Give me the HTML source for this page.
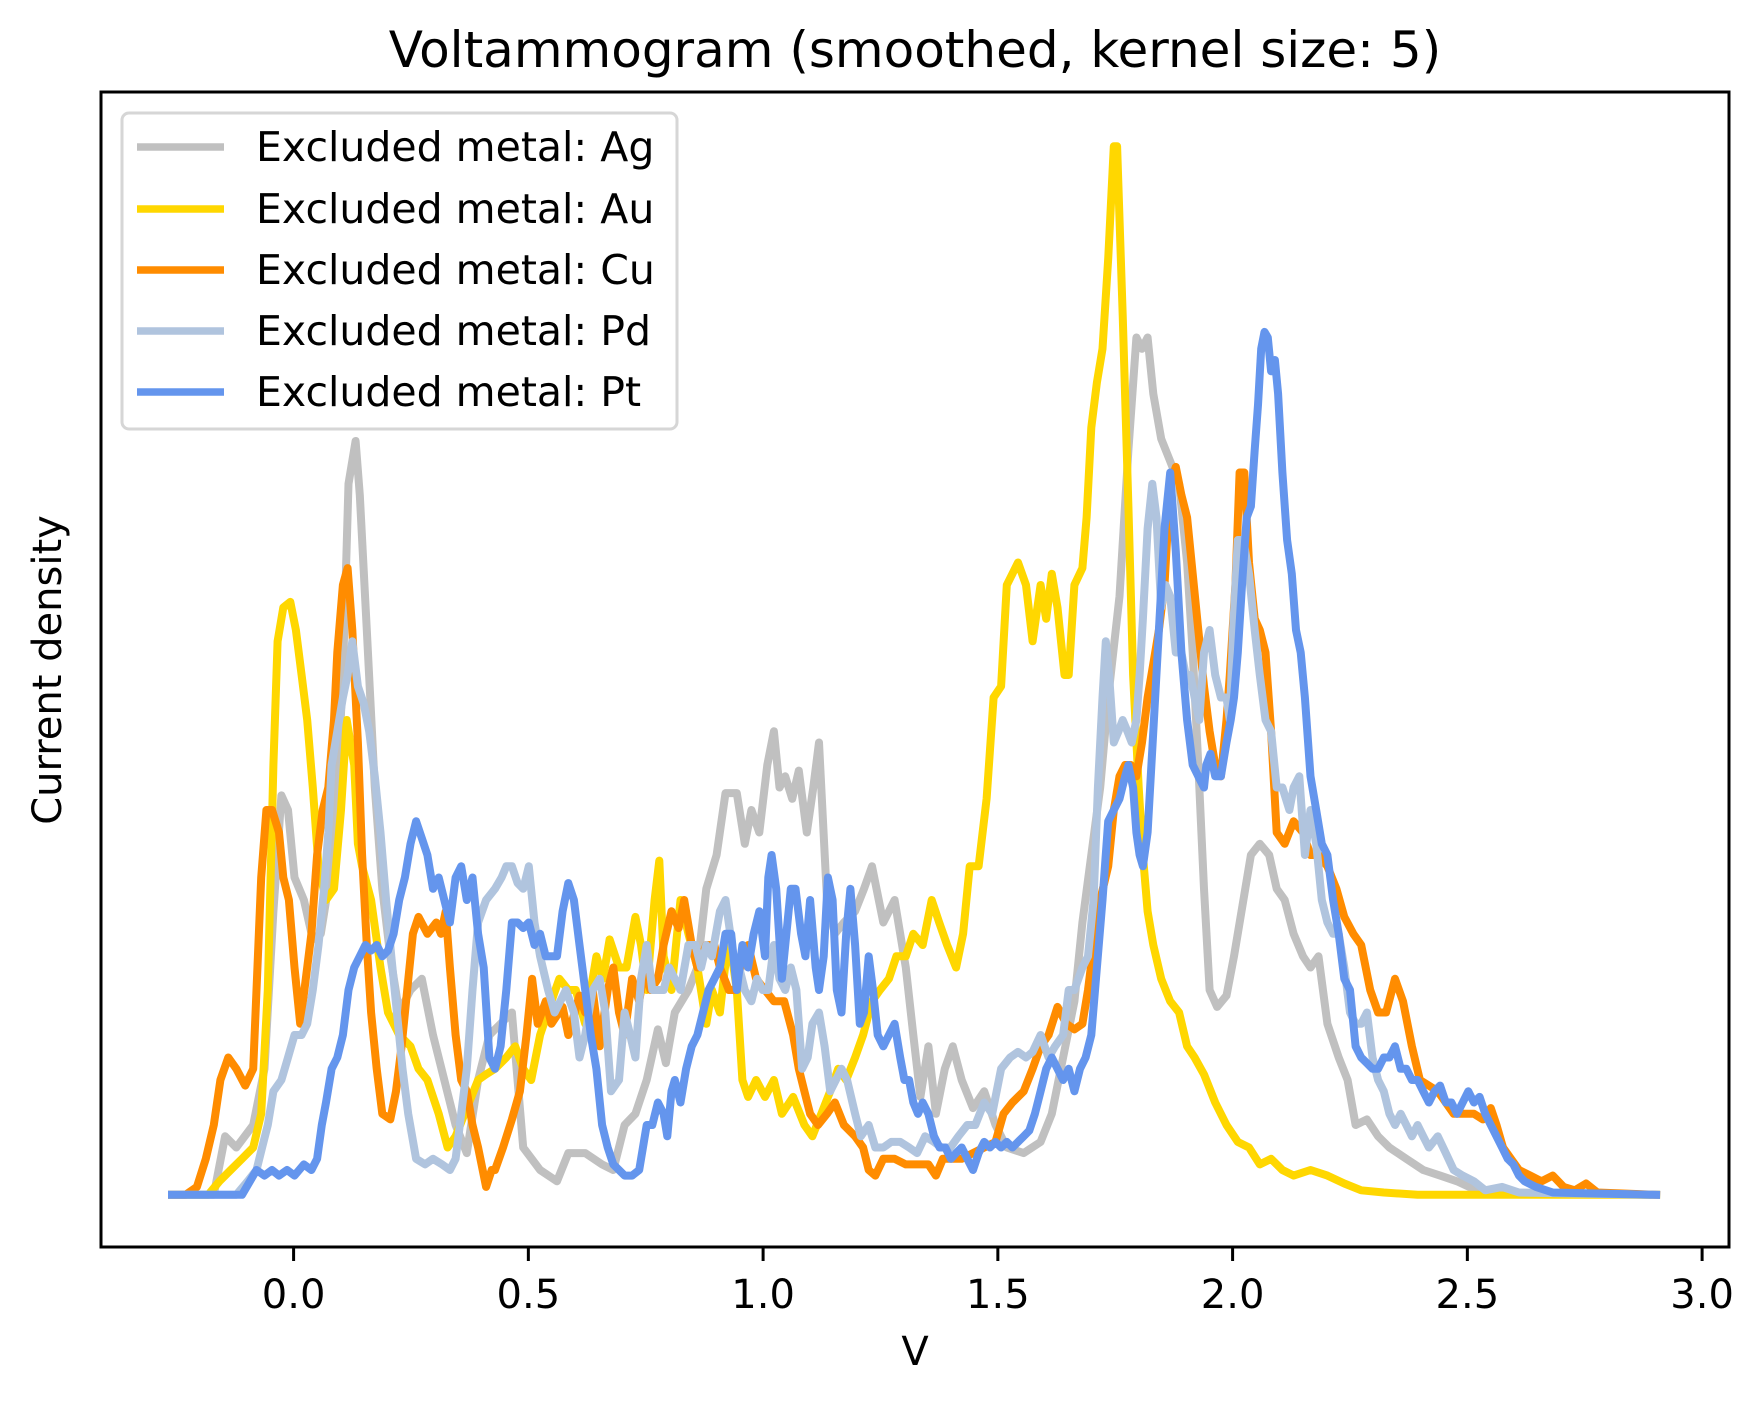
<!DOCTYPE html>
<html><head><meta charset="utf-8"><style>
html,body{margin:0;padding:0;background:#fff;}
svg{display:block;}
text{font-family:"DejaVu Sans","Liberation Sans",sans-serif;fill:#000;}
</style></head><body>
<svg id="chart" width="1764" height="1403" viewBox="0 0 1764 1403" xmlns="http://www.w3.org/2000/svg">
<rect x="0" y="0" width="1764" height="1403" fill="#fff"/>
<text x="915" y="67" font-size="50" text-anchor="middle">Voltammogram (smoothed, kernel size: 5)</text>
<g id="series"></g>
<g id="xaxis"></g>
<rect x="101" y="92" width="1628" height="1155" fill="none" stroke="#000" stroke-width="3"/>
<text x="915" y="1365" font-size="40" text-anchor="middle">V</text>
<text x="0" y="0" font-size="40" text-anchor="middle" transform="translate(61,670) rotate(-90)">Current density</text>
<g id="legend"></g>
</svg>
<script>
const seriesNames = ["Excluded metal: Ag","Excluded metal: Au","Excluded metal: Cu","Excluded metal: Pd","Excluded metal: Pt"];
const seriesColors = ["#c0c0c0","#ffd700","#ff8c00","#b0c4de","#6495ed"];
const xTicks = [0.0,0.5,1.0,1.5,2.0,2.5,3.0];
const xTickLabels = ["0.0","0.5","1.0","1.5","2.0","2.5","3.0"];
const agData = [[-0.259,0],[-0.17,0],[-0.146,52],[-0.122,42],[-0.086,62],[-0.062,112],[-0.043,252],[-0.026,355],[-0.012,342],[0.002,282],[0.022,262],[0.041,227],[0.058,232],[0.077,282],[0.093,362],[0.105,462],[0.117,632],[0.132,670],[0.141,622],[0.156,502],[0.173,362],[0.189,272],[0.206,212],[0.225,162],[0.249,182],[0.273,192],[0.297,142],[0.321,102],[0.345,62],[0.369,37],[0.393,102],[0.417,142],[0.441,152],[0.465,162],[0.489,42],[0.525,22],[0.561,12],[0.585,37],[0.621,37],[0.657,27],[0.681,22],[0.705,62],[0.728,72],[0.752,102],[0.776,147],[0.793,117],[0.812,162],[0.841,182],[0.86,202],[0.879,272],[0.901,302],[0.92,357],[0.944,357],[0.961,312],[0.975,342],[0.992,322],[1.009,382],[1.023,412],[1.035,362],[1.047,372],[1.062,352],[1.076,377],[1.093,322],[1.107,362],[1.119,402],[1.136,262],[1.153,232],[1.172,242],[1.196,252],[1.215,272],[1.232,292],[1.256,242],[1.28,262],[1.304,202],[1.32,142],[1.335,87],[1.352,132],[1.368,72],[1.387,112],[1.404,132],[1.423,102],[1.447,77],[1.471,92],[1.495,62],[1.519,42],[1.555,37],[1.591,47],[1.615,72],[1.639,122],[1.663,172],[1.68,242],[1.699,302],[1.718,362],[1.735,442],[1.759,532],[1.778,662],[1.795,762],[1.807,752],[1.819,762],[1.831,712],[1.848,672],[1.867,652],[1.886,632],[1.903,562],[1.915,482],[1.927,382],[1.939,272],[1.951,182],[1.967,167],[1.987,177],[2.003,212],[2.023,262],[2.039,302],[2.058,312],[2.078,302],[2.094,272],[2.111,262],[2.13,232],[2.15,212],[2.166,202],[2.183,212],[2.202,152],[2.226,122],[2.245,102],[2.262,62],[2.286,67],[2.31,52],[2.334,42],[2.37,32],[2.406,22],[2.442,17],[2.478,12],[2.514,5],[2.562,2],[2.902,0]];
const auData = [[-0.259,0],[-0.182,0],[-0.158,12],[-0.134,22],[-0.110,32],[-0.086,42],[-0.069,72],[-0.055,182],[-0.043,382],[-0.034,492],[-0.022,522],[-0.007,527],[0.005,502],[0.017,462],[0.029,422],[0.041,362],[0.053,292],[0.069,262],[0.086,272],[0.101,342],[0.113,422],[0.129,382],[0.137,312],[0.146,292],[0.165,262],[0.185,202],[0.201,162],[0.225,142],[0.249,132],[0.266,112],[0.285,102],[0.309,72],[0.328,42],[0.345,52],[0.369,77],[0.393,102],[0.41,107],[0.429,112],[0.453,122],[0.472,132],[0.489,112],[0.506,102],[0.525,142],[0.549,172],[0.566,192],[0.585,182],[0.601,182],[0.621,152],[0.645,212],[0.659,192],[0.673,227],[0.693,202],[0.709,202],[0.728,247],[0.74,222],[0.752,182],[0.769,262],[0.779,297],[0.788,212],[0.805,182],[0.824,262],[0.841,232],[0.86,202],[0.879,152],[0.891,182],[0.908,162],[0.927,232],[0.944,182],[0.956,102],[0.968,87],[0.985,102],[1.004,87],[1.023,102],[1.04,72],[1.064,87],[1.088,62],[1.105,52],[1.124,72],[1.143,92],[1.16,112],[1.177,102],[1.196,122],[1.213,142],[1.232,172],[1.249,182],[1.268,192],[1.284,212],[1.304,212],[1.32,232],[1.34,222],[1.359,262],[1.375,242],[1.392,222],[1.411,202],[1.426,232],[1.44,292],[1.459,292],[1.476,352],[1.491,442],[1.507,452],[1.519,542],[1.531,552],[1.543,562],[1.56,542],[1.574,492],[1.591,542],[1.603,512],[1.615,552],[1.627,522],[1.642,462],[1.651,462],[1.663,542],[1.68,557],[1.689,602],[1.699,682],[1.711,722],[1.723,752],[1.735,832],[1.747,932],[1.754,932],[1.766,782],[1.778,612],[1.788,462],[1.8,362],[1.809,302],[1.819,252],[1.831,222],[1.848,192],[1.867,172],[1.886,162],[1.903,132],[1.919,122],[1.939,107],[1.963,82],[1.987,62],[2.011,47],[2.035,42],[2.058,27],[2.082,32],[2.106,22],[2.13,17],[2.166,22],[2.202,17],[2.238,10],[2.274,4],[2.322,2],[2.394,0],[2.902,0]];
const cuData = [[-0.259,0],[-0.230,0],[-0.206,7],[-0.187,32],[-0.17,62],[-0.156,102],[-0.139,122],[-0.122,112],[-0.103,97],[-0.086,112],[-0.069,282],[-0.058,342],[-0.046,342],[-0.031,322],[-0.022,282],[-0.01,262],[0.002,202],[0.014,152],[0.026,192],[0.038,232],[0.05,302],[0.062,342],[0.074,362],[0.086,422],[0.093,482],[0.105,542],[0.115,557],[0.125,502],[0.137,402],[0.146,302],[0.156,222],[0.165,162],[0.177,112],[0.189,72],[0.206,67],[0.218,92],[0.23,132],[0.242,182],[0.254,232],[0.266,247],[0.285,232],[0.304,242],[0.314,232],[0.324,252],[0.333,202],[0.345,142],[0.357,102],[0.369,92],[0.381,62],[0.393,42],[0.41,7],[0.422,22],[0.429,22],[0.446,42],[0.465,67],[0.482,92],[0.496,142],[0.508,192],[0.52,152],[0.537,172],[0.549,152],[0.573,167],[0.585,142],[0.609,177],[0.621,162],[0.637,182],[0.652,132],[0.669,182],[0.681,202],[0.693,162],[0.705,142],[0.721,192],[0.736,172],[0.748,202],[0.76,182],[0.776,192],[0.788,222],[0.805,252],[0.82,237],[0.832,262],[0.848,222],[0.86,202],[0.879,222],[0.896,222],[0.908,202],[0.927,182],[0.944,182],[0.956,212],[0.968,222],[0.985,192],[1.004,182],[1.023,172],[1.045,172],[1.064,142],[1.076,112],[1.088,92],[1.1,72],[1.117,62],[1.136,72],[1.153,82],[1.172,62],[1.196,52],[1.213,42],[1.225,22],[1.239,17],[1.256,32],[1.28,32],[1.304,27],[1.328,27],[1.352,27],[1.368,17],[1.383,32],[1.4,32],[1.423,32],[1.447,37],[1.471,42],[1.495,47],[1.512,72],[1.531,82],[1.555,92],[1.574,112],[1.591,132],[1.608,142],[1.627,167],[1.646,152],[1.663,147],[1.68,152],[1.692,182],[1.704,222],[1.718,262],[1.735,292],[1.747,342],[1.759,372],[1.771,382],[1.783,382],[1.795,372],[1.807,402],[1.819,442],[1.831,472],[1.843,502],[1.855,542],[1.867,632],[1.879,647],[1.891,622],[1.903,602],[1.915,552],[1.927,502],[1.939,452],[1.951,412],[1.963,382],[1.975,372],[1.987,422],[1.994,462],[2.006,542],[2.015,642],[2.025,642],[2.035,562],[2.047,512],[2.058,502],[2.07,482],[2.082,412],[2.094,322],[2.111,312],[2.13,332],[2.15,322],[2.166,302],[2.183,302],[2.202,292],[2.221,272],[2.238,247],[2.257,232],[2.274,222],[2.293,182],[2.31,162],[2.327,162],[2.346,192],[2.363,172],[2.382,132],[2.399,102],[2.418,97],[2.437,92],[2.454,82],[2.471,72],[2.49,72],[2.514,72],[2.533,67],[2.55,77],[2.562,62],[2.576,42],[2.593,32],[2.61,22],[2.634,17],[2.658,12],[2.682,17],[2.705,7],[2.729,4],[2.753,10],[2.777,2],[2.902,0]];
const pdData = [[-0.259,0],[-0.122,0],[-0.098,12],[-0.079,22],[-0.067,42],[-0.055,62],[-0.043,92],[-0.026,102],[-0.012,122],[0.002,142],[0.017,142],[0.029,152],[0.041,182],[0.053,222],[0.065,272],[0.074,322],[0.081,382],[0.093,412],[0.105,442],[0.115,462],[0.125,492],[0.137,452],[0.149,437],[0.161,412],[0.173,372],[0.185,322],[0.197,262],[0.208,212],[0.22,162],[0.232,112],[0.244,72],[0.261,32],[0.28,27],[0.297,32],[0.316,27],[0.333,22],[0.345,32],[0.357,72],[0.369,112],[0.381,182],[0.393,242],[0.41,262],[0.429,272],[0.443,282],[0.453,292],[0.465,292],[0.477,277],[0.489,272],[0.501,292],[0.513,242],[0.525,212],[0.542,182],[0.556,162],[0.568,172],[0.58,182],[0.597,162],[0.609,122],[0.621,142],[0.637,182],[0.652,192],[0.664,162],[0.676,92],[0.693,102],[0.705,162],[0.717,142],[0.728,122],[0.74,192],[0.752,222],[0.764,182],[0.776,182],[0.788,182],[0.8,202],[0.812,192],[0.824,182],[0.841,222],[0.856,222],[0.868,202],[0.879,222],[0.891,212],[0.908,252],[0.92,262],[0.937,212],[0.949,202],[0.961,182],[0.975,172],[0.987,192],[0.999,182],[1.011,182],[1.023,222],[1.035,192],[1.047,182],[1.059,202],[1.071,182],[1.083,112],[1.095,122],[1.105,152],[1.119,162],[1.131,132],[1.143,92],[1.155,102],[1.167,112],[1.179,102],[1.196,72],[1.208,52],[1.225,62],[1.239,42],[1.256,42],[1.273,47],[1.292,47],[1.311,42],[1.328,37],[1.345,52],[1.364,47],[1.38,42],[1.399,42],[1.416,52],[1.435,62],[1.452,62],[1.471,82],[1.488,72],[1.507,112],[1.526,122],[1.543,127],[1.56,122],[1.574,127],[1.591,142],[1.608,122],[1.622,132],[1.639,142],[1.651,182],[1.663,182],[1.68,202],[1.692,212],[1.704,262],[1.713,362],[1.723,442],[1.73,492],[1.737,462],[1.747,402],[1.757,412],[1.766,422],[1.776,412],[1.785,402],[1.795,422],[1.802,462],[1.809,512],[1.819,592],[1.829,632],[1.838,602],[1.848,522],[1.857,542],[1.867,532],[1.879,482],[1.891,482],[1.9,462],[1.91,462],[1.919,442],[1.929,422],[1.939,482],[1.951,502],[1.963,462],[1.975,442],[1.987,442],[1.994,422],[2.001,502],[2.011,582],[2.023,582],[2.035,552],[2.047,502],[2.058,462],[2.07,422],[2.082,412],[2.094,362],[2.106,362],[2.121,342],[2.13,362],[2.142,372],[2.154,302],[2.166,342],[2.178,312],[2.19,262],[2.202,242],[2.214,232],[2.226,232],[2.238,202],[2.25,162],[2.262,152],[2.274,152],[2.286,162],[2.298,122],[2.31,102],[2.322,92],[2.334,72],[2.346,62],[2.358,72],[2.37,62],[2.382,52],[2.394,62],[2.406,52],[2.418,42],[2.437,52],[2.454,37],[2.471,22],[2.49,17],[2.514,12],[2.538,4],[2.574,7],[2.61,2],[2.902,0]];
const ptData = [[-0.259,0],[-0.11,0],[-0.093,12],[-0.079,22],[-0.062,17],[-0.046,22],[-0.031,17],[-0.014,22],[0.002,17],[0.022,27],[0.038,22],[0.05,32],[0.06,62],[0.069,82],[0.081,112],[0.093,122],[0.105,142],[0.117,182],[0.129,202],[0.141,212],[0.153,222],[0.165,217],[0.177,222],[0.189,212],[0.201,217],[0.213,232],[0.225,262],[0.237,282],[0.249,312],[0.261,332],[0.273,317],[0.285,302],[0.297,272],[0.309,282],[0.321,262],[0.333,242],[0.345,282],[0.357,292],[0.369,262],[0.381,282],[0.393,232],[0.405,202],[0.417,122],[0.429,112],[0.441,132],[0.453,182],[0.465,242],[0.477,242],[0.489,237],[0.501,242],[0.513,222],[0.525,232],[0.537,212],[0.549,212],[0.561,212],[0.573,252],[0.585,277],[0.597,262],[0.609,222],[0.621,182],[0.633,142],[0.645,112],[0.657,62],[0.669,42],[0.681,27],[0.693,22],[0.705,17],[0.721,17],[0.736,22],[0.752,62],[0.764,62],[0.776,82],[0.788,72],[0.796,52],[0.805,92],[0.812,102],[0.824,82],[0.836,112],[0.848,132],[0.86,142],[0.872,162],[0.884,182],[0.896,192],[0.908,202],[0.92,232],[0.932,232],[0.944,182],[0.956,222],[0.968,202],[0.98,232],[0.992,252],[1.004,212],[1.011,282],[1.018,302],[1.028,272],[1.04,192],[1.052,242],[1.059,272],[1.069,272],[1.081,232],[1.09,212],[1.1,262],[1.112,202],[1.119,182],[1.129,212],[1.138,282],[1.148,262],[1.157,182],[1.167,162],[1.177,232],[1.186,272],[1.196,222],[1.206,152],[1.215,162],[1.225,212],[1.234,182],[1.244,142],[1.256,132],[1.268,142],[1.28,152],[1.292,122],[1.301,102],[1.311,102],[1.32,82],[1.33,72],[1.34,82],[1.352,72],[1.364,52],[1.376,42],[1.388,42],[1.4,32],[1.411,37],[1.423,42],[1.435,32],[1.447,22],[1.459,37],[1.471,47],[1.483,42],[1.495,47],[1.507,42],[1.519,47],[1.531,42],[1.543,47],[1.555,52],[1.567,57],[1.579,72],[1.591,92],[1.603,112],[1.615,122],[1.627,112],[1.639,102],[1.651,112],[1.663,92],[1.675,112],[1.687,122],[1.699,142],[1.711,202],[1.723,262],[1.735,332],[1.747,342],[1.759,352],[1.771,372],[1.778,382],[1.788,362],[1.795,322],[1.802,302],[1.809,292],[1.819,322],[1.831,412],[1.843,502],[1.855,592],[1.867,642],[1.879,572],[1.891,482],[1.903,422],[1.915,382],[1.927,372],[1.939,362],[1.944,382],[1.953,392],[1.963,372],[1.975,372],[1.987,402],[1.996,422],[2.003,442],[2.011,482],[2.02,542],[2.03,602],[2.039,612],[2.047,662],[2.054,702],[2.061,752],[2.068,767],[2.075,762],[2.082,732],[2.09,742],[2.097,712],[2.106,642],[2.116,582],[2.126,552],[2.135,502],[2.145,482],[2.154,442],[2.166,372],[2.178,342],[2.19,312],[2.202,302],[2.214,262],[2.226,232],[2.238,192],[2.25,182],[2.262,132],[2.274,122],[2.286,117],[2.298,112],[2.31,112],[2.322,122],[2.334,122],[2.346,132],[2.358,112],[2.37,112],[2.382,102],[2.394,102],[2.406,92],[2.418,82],[2.43,92],[2.442,97],[2.454,82],[2.466,82],[2.478,72],[2.49,82],[2.502,92],[2.514,82],[2.526,87],[2.538,72],[2.55,62],[2.562,52],[2.574,42],[2.586,32],[2.598,27],[2.61,17],[2.622,12],[2.646,7],[2.682,2],[2.902,0]];

const NS = "http://www.w3.org/2000/svg";
function xScale(v){ return 293.6 + v * 469.5; }
function yScale(h){ return 1194.75 - h * 1.125; }
const allSeries = [agData, auData, cuData, pdData, ptData];
const seriesKeys = ["ag","au","cu","pd","pt"];
const sg = document.getElementById("series");
allSeries.forEach(function(data, i){
  const p = document.createElementNS(NS, "path");
  let d = "";
  data.forEach(function(pt, j){ d += (j ? "L" : "M") + xScale(pt[0]).toFixed(1) + "," + yScale(pt[1]).toFixed(1); });
  p.setAttribute("d", d);
  p.setAttribute("fill", "none");
  p.setAttribute("stroke", seriesColors[i]);
  p.setAttribute("stroke-width", "8");
  p.setAttribute("stroke-linejoin", "round");
  p.setAttribute("stroke-linecap", "square");
  
  
  sg.appendChild(p);
});
const xg = document.getElementById("xaxis");
xTicks.forEach(function(t, i){
  const x = xScale(t);
  const ln = document.createElementNS(NS, "line");
  ln.setAttribute("x1", x); ln.setAttribute("x2", x);
  ln.setAttribute("y1", 1247); ln.setAttribute("y2", 1261);
  ln.setAttribute("stroke", "#000"); ln.setAttribute("stroke-width", "3");
  
  
  xg.appendChild(ln);
  const tx = document.createElementNS(NS, "text");
  tx.setAttribute("x", x); tx.setAttribute("y", 1308);
  tx.setAttribute("font-size", "40"); tx.setAttribute("text-anchor", "middle");
  tx.textContent = xTickLabels[i];
  
  
  xg.appendChild(tx);
});
const lg = document.getElementById("legend");
const box = document.createElementNS(NS, "rect");
box.setAttribute("x", 122); box.setAttribute("y", 113);
box.setAttribute("width", 555); box.setAttribute("height", 316);
box.setAttribute("rx", 7); box.setAttribute("fill", "#fff"); box.setAttribute("fill-opacity", "0.8");
box.setAttribute("stroke", "#d6d6d6"); box.setAttribute("stroke-width", "3");


lg.appendChild(box);
const legendY = [147, 209, 270, 331, 392];
seriesNames.forEach(function(name, i){
  const ln = document.createElementNS(NS, "line");
  ln.setAttribute("x1", 137); ln.setAttribute("x2", 224);
  ln.setAttribute("y1", legendY[i]); ln.setAttribute("y2", legendY[i]);
  ln.setAttribute("stroke", seriesColors[i]); ln.setAttribute("stroke-width", "7.5");
  
  
  lg.appendChild(ln);
  const tx = document.createElementNS(NS, "text");
  tx.setAttribute("x", 256); tx.setAttribute("y", legendY[i] + 14);
  tx.setAttribute("font-size", "41");
  tx.textContent = name;
  
  
  lg.appendChild(tx);
});
</script>
</body></html>
